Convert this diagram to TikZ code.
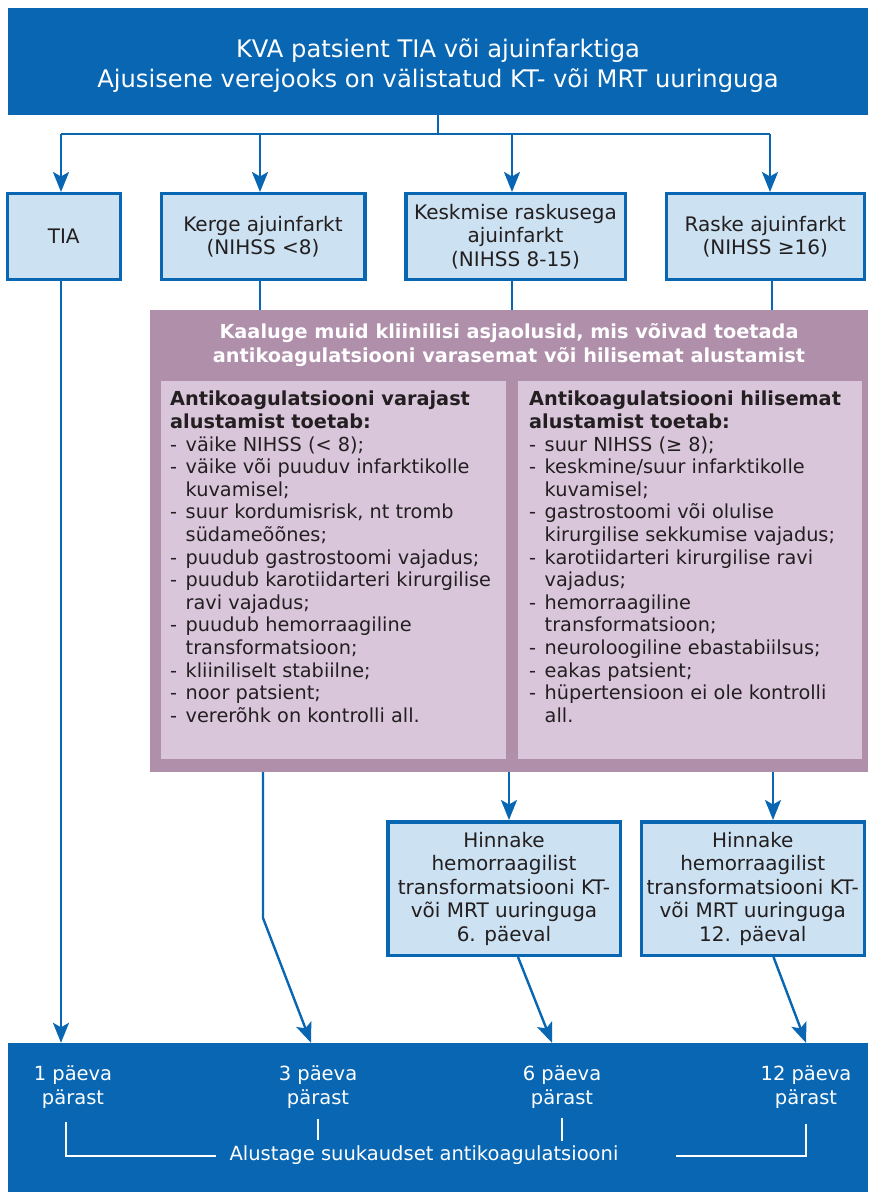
\documentclass[tikz,border=0pt]{standalone}
\usepackage{fontspec}
\setmainfont{DejaVu Sans}
\usetikzlibrary{arrows.meta}

\definecolor{kvablue}{HTML}{0866B2}
\definecolor{paleblue}{HTML}{CCE1F1}
\definecolor{mauve}{HTML}{B08FAB}
\definecolor{palemauve}{HTML}{D9C6DB}
\definecolor{ink}{HTML}{231F20}

\newcommand\listdash{\makebox[15.5pt][l]{-}}
\newcommand\listindent{\hspace*{15.5pt}}

\tikzset{
  banner/.style={fill=kvablue, text=white, inner sep=0pt, align=center},
  stagebox/.style={draw=kvablue, line width=3.5pt, fill=paleblue, text=ink,
    inner sep=0pt, align=center, font=\fontsize{20}{23.5}\selectfont},
  panel/.style={fill=mauve, inner sep=0pt},
  subpanel/.style={fill=palemauve, inner sep=0pt},
  listtext/.style={text=ink, inner sep=0pt, align=left, anchor=north west,
    font=\fontsize{19.3}{22.6}\selectfont},
  flow/.style={draw=kvablue, line width=2.4pt},
  flowarrow/.style={flow, -{Stealth[length=20pt, width=16pt, inset=4.5pt]}},
  bracket/.style={draw=white, line width=2pt},
  daylabel/.style={text=white, align=center, inner sep=0pt,
    font=\fontsize{19.5}{24}\selectfont},
}

\begin{document}
\begin{tikzpicture}[x=1pt, y=-1pt]
\useasboundingbox (0,0) rectangle (868,1193);

% header
\node[banner, minimum width=860pt, minimum height=107pt] (top) at (438,61.5) {};
\node[text=white, align=center, inner sep=0pt,
      font=\fontsize{24.2}{30}\selectfont] (toptitle) at (438,65.5)
  {KVA patsient TIA või ajuinfarktiga\\Ajusisene verejooks on välistatud KT- või MRT uuringuga};

% severity boxes
\node[stagebox, minimum width=113pt, minimum height=85.5pt] (tia) at (63.75,236.5) {TIA};
\node[stagebox, minimum width=203.5pt, minimum height=85.5pt] (mild) at (263,236.5)
  {Kerge ajuinfarkt\\(NIHSS <8)};
\node[stagebox, minimum width=219.5pt, minimum height=85.5pt] (moderate) at (515.5,236.5)
  {Keskmise raskusega\\ajuinfarkt\\(NIHSS 8-15)};
\node[stagebox, minimum width=198pt, minimum height=85.5pt] (severe) at (765.25,236.5)
  {Raske ajuinfarkt\\(NIHSS ≥16)};

% branching from the header
\coordinate (hub) at (438,134);
\coordinate (b1) at (61,134);
\coordinate (b2) at (260,134);
\coordinate (b3) at (512,134);
\coordinate (b4) at (770,134);
\draw[flow] (top.south) -- (hub);
\draw[flow] (b1) -- (b4);
\draw[flowarrow] (b1) -- (b1 |- tia.north);
\draw[flowarrow] (b2) -- (b2 |- mild.north);
\draw[flowarrow] (b3) -- (b3 |- moderate.north);
\draw[flowarrow] (b4) -- (b4 |- severe.north);

% clinical considerations panel
\node[panel, minimum width=718pt, minimum height=462pt] (panel) at (509,541) {};
\node[text=white, align=center, inner sep=0pt,
      font=\bfseries\fontsize{19.3}{23.3}\selectfont] (paneltitle) at (509,345)
  {Kaaluge muid kliinilisi asjaolusid, mis võivad toetada\\antikoagulatsiooni varasemat või hilisemat alustamist};
\node[subpanel, minimum width=345pt, minimum height=378pt] (early) at (333.5,570) {};
\node[subpanel, minimum width=344pt, minimum height=378pt] (late) at (690,570) {};

\node[listtext] (earlytext) at (170,391)
  {\textbf{Antikoagulatsiooni varajast}\\
   \textbf{alustamist toetab:}\\
   \listdash väike NIHSS (< 8);\\
   \listdash väike või puuduv infarktikolle\\
   \listindent kuvamisel;\\
   \listdash suur kordumisrisk, nt tromb\\
   \listindent südameõõnes;\\
   \listdash puudub gastrostoomi vajadus;\\
   \listdash puudub karotiidarteri kirurgilise\\
   \listindent ravi vajadus;\\
   \listdash puudub hemorraagiline\\
   \listindent transformatsioon;\\
   \listdash kliiniliselt stabiilne;\\
   \listdash noor patsient;\\
   \listdash vererõhk on kontrolli all.};

\node[listtext] (latetext) at (529,391)
  {\textbf{Antikoagulatsiooni hilisemat}\\
   \textbf{alustamist toetab:}\\
   \listdash suur NIHSS (≥ 8);\\
   \listdash keskmine/suur infarktikolle\\
   \listindent kuvamisel;\\
   \listdash gastrostoomi või olulise\\
   \listindent kirurgilise sekkumise vajadus;\\
   \listdash karotiidarteri kirurgilise ravi\\
   \listindent vajadus;\\
   \listdash hemorraagiline\\
   \listindent transformatsioon;\\
   \listdash neuroloogiline ebastabiilsus;\\
   \listdash eakas patsient;\\
   \listdash hüpertensioon ei ole kontrolli\\
   \listindent all.};

% severity boxes into the panel
\draw[flow] (b2 |- mild.south) -- (b2 |- panel.north);
\draw[flow] (b3 |- moderate.south) -- (b3 |- panel.north);
\draw[flow] (772,0 |- severe.south) -- (772,0 |- panel.north);

% imaging check boxes
\node[stagebox, minimum width=232.5pt, minimum height=133.5pt] (check6) at (504,888.5)
  {Hinnake\\hemorraagilist\\transformatsiooni KT-\\või MRT uuringuga\\6. päeval};
\node[stagebox, minimum width=223pt, minimum height=133.5pt] (check12) at (752.75,888.5)
  {Hinnake\\hemorraagilist\\transformatsiooni KT-\\või MRT uuringuga\\12. päeval};

% start of anticoagulation
\node[banner, minimum width=860pt, minimum height=149pt] (start) at (438,1117.5) {};
\node[daylabel] (d1) at (73,1087) {1 päeva\\pärast};
\node[daylabel] (d3) at (318,1087) {3 päeva\\pärast};
\node[daylabel] (d6) at (562,1087) {6 päeva\\pärast};
\node[daylabel] (d12) at (806,1087) {12 päeva\\pärast};
\node[text=white, inner sep=0pt, font=\fontsize{19.5}{24}\selectfont] (startlabel) at (424,1155)
  {Alustage suukaudset antikoagulatsiooni};
\draw[bracket] (66,1122) -- (66,1156) -- (216,1156);
\draw[bracket] (676,1156) -- (806,1156) -- (806,1124);
\draw[bracket] (318,1119) -- (318,1140);
\draw[bracket] (562,1118) -- (562,1141);

% routes to the start times
\coordinate (bend3) at (263,918);
\draw[flowarrow] (b1 |- tia.south) -- (b1 |- start.north);
\draw[flowarrow] (263,0 |- panel.south) -- (bend3) -- (311,0 |- start.north);
\draw[flowarrow] (509,0 |- panel.south) -- (509,0 |- check6.north);
\draw[flowarrow] (773,0 |- panel.south) -- (773,0 |- check12.north);
\draw[flowarrow] (518,0 |- check6.south) -- (552,0 |- start.north);
\draw[flowarrow] (773.5,0 |- check12.south) -- (806,0 |- start.north);
\end{tikzpicture}
\end{document}
